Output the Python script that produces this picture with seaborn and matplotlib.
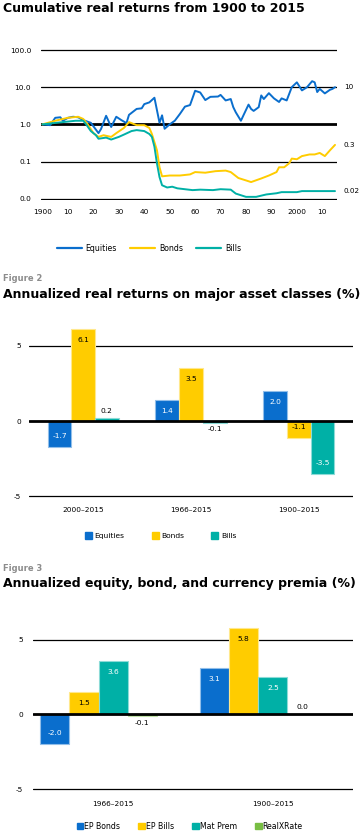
import numpy as np
import pandas as pd
import matplotlib
matplotlib.use('Agg')
import matplotlib.pyplot as plt
import seaborn as sns
from matplotlib.lines import Line2D
from matplotlib.patches import Patch
from matplotlib.colors import to_rgb

sns.set_theme(style='white')
plt.rcParams['font.family'] = ['DejaVu Sans']
plt.rcParams['text.color'] = 'black'
plt.rcParams['xtick.color'] = 'black'
plt.rcParams['ytick.color'] = 'black'

W, H = 362, 840

# --- Figure 1: cumulative real returns (log scale) ---
assets = ['Equities', 'Bonds', 'Bills']
eq_years = [1900, 1903, 1905, 1907, 1908, 1910, 1912, 1914, 1916, 1919, 1922, 1923,
            1925, 1927, 1929, 1931, 1933, 1934, 1937, 1939, 1940, 1942, 1944, 1946,
            1947, 1948, 1950, 1952, 1954, 1956, 1958, 1960, 1962, 1964, 1966, 1969,
            1970, 1972, 1974, 1975, 1976, 1978, 1979, 1981, 1982, 1983, 1985, 1986,
            1987, 1989, 1991, 1993, 1994, 1996, 1998, 2000, 2002, 2004, 2006, 2007,
            2008, 2009, 2011, 2013, 2014, 2015]
eq_values = [1.0, 0.95, 1.5, 1.55, 1.25, 1.5, 1.6, 1.55, 1.3, 1.1, 0.58, 0.75,
             1.7, 0.85, 1.6, 1.3, 1.08, 1.8, 2.6, 2.7, 3.5, 3.9, 5.2, 1.1,
             1.75, 0.76, 1.0, 1.25, 1.9, 3.0, 3.3, 8.0, 7.2, 4.5, 5.5, 5.6,
             6.2, 4.4, 4.8, 2.9, 2.1, 1.25, 1.75, 3.4, 2.6, 2.3, 2.9, 6.0,
             4.8, 6.9, 5.0, 4.0, 5.0, 4.4, 10.0, 13.5, 8.2, 10.0, 14.5, 13.5,
             7.4, 9.0, 6.8, 8.5, 9.0, 10.0]
bond_years = [1900, 1905, 1910, 1914, 1916, 1918, 1920, 1922, 1924, 1927, 1929, 1932,
              1934, 1937, 1940, 1942, 1943, 1945, 1946, 1947, 1950, 1954, 1958, 1960,
              1964, 1968, 1972, 1974, 1977, 1980, 1982, 1986, 1989, 1992, 1993, 1995,
              1997, 1998, 2000, 2002, 2005, 2007, 2009, 2011, 2013, 2015]
bond_values = [1.0, 1.25, 1.5, 1.6, 1.4, 0.95, 0.58, 0.46, 0.51, 0.46, 0.58, 0.8,
               1.15, 0.95, 0.95, 0.8, 0.55, 0.2, 0.07, 0.04, 0.042, 0.042, 0.045, 0.052,
               0.05, 0.055, 0.057, 0.052, 0.036, 0.031, 0.028, 0.035, 0.042, 0.052, 0.07, 0.07,
               0.09, 0.12, 0.115, 0.14, 0.155, 0.155, 0.17, 0.14, 0.2, 0.28]
bill_years = [1900, 1908, 1913, 1916, 1917, 1919, 1921, 1922, 1925, 1927, 1930, 1932,
              1935, 1937, 1940, 1942, 1943, 1944, 1945, 1946, 1947, 1949, 1951, 1953,
              1959, 1962, 1967, 1970, 1974, 1976, 1980, 1984, 1988, 1992, 1994, 2000,
              2002, 2015]
bill_values = [1.0, 1.15, 1.25, 1.25, 1.03, 0.66, 0.51, 0.41, 0.44, 0.39, 0.46, 0.53,
               0.66, 0.7, 0.66, 0.55, 0.46, 0.25, 0.088, 0.038, 0.023, 0.02, 0.021, 0.019,
               0.017, 0.0175, 0.017, 0.018, 0.0175, 0.0137, 0.0112, 0.0112, 0.013, 0.014, 0.015, 0.015,
               0.016, 0.016]
end_labels = ['10', '0.3', '0.02']
log_ticks = [100, 10, 1, 0.1, 0.01]
log_ticklabels = ['100.0', '10.0', '1.0', '0.1', '0.0']
decade_ticks = list(range(1900, 2011, 10))
decade_labels = ['1900', '10', '20', '30', '40', '50', '60', '70', '80', '90', '2000', '10']

# --- Figure 2: annualized real returns ---
periods2 = ['2000–2015', '1966–2015', '1900–2015']
equities_ret = [-1.7, 1.4, 2.0]
bonds_ret = [6.1, 3.5, -1.1]
bills_ret = [0.2, -0.1, -3.5]

# --- Figure 3: premia ---
periods3 = ['1966–2015', '1900–2015']
premia = ['EP Bonds', 'EP Bills', 'Mat Prem', 'RealXRate']
ep_bonds = [-2.0, 3.1]
ep_bills = [1.5, 5.8]
mat_prem = [3.6, 2.5]
real_xrate = [-0.1, 0.0]

colors = {'Equities': '#0A6ECD', 'Bonds': '#FFCC00', 'Bills': '#00B0A6'}
colors3 = {'EP Bonds': '#0A6ECD', 'EP Bills': '#FFCC00', 'Mat Prem': '#00B0A6',
           'RealXRate': '#78BE43', ' ': '#ffffff'}


def box(left, right, top, bottom):
    return [left / W, 1 - bottom / H, (right - left) / W, (bottom - top) / H]


def clean(ax):
    for s in ax.spines.values():
        s.set_visible(False)
    ax.set_xlabel('')
    ax.set_ylabel('')


def style_bars(ax):
    for bar in ax.patches:
        fc = np.array(to_rgb(bar.get_facecolor()))
        bar.set_edgecolor(fc * 0.45 + 0.55)
        bar.set_linewidth(0.8)


def label_bars(ax):
    for bar in ax.patches:
        h = bar.get_height()
        if np.isnan(h):
            continue
        x = bar.get_x() + bar.get_width() / 2
        fc = bar.get_facecolor()
        lum = 0.299 * fc[0] + 0.587 * fc[1] + 0.114 * fc[2]
        if abs(h) < 0.5:
            off = 5 if h >= 0 else -5
            col = 'black'
        else:
            off = -8 if h > 0 else 8
            col = 'white' if lum < 0.6 else 'black'
        ax.annotate(f'{h:.1f}', (x, h), xytext=(0, off), textcoords='offset points',
                    ha='center', va='center', fontsize=5.4, color=col, zorder=5)


fig = plt.figure(figsize=(W / 100, H / 100), dpi=100)

# ---------- chart 1 ----------
fig.text(3 / W, 1 - 8 / H, 'Cumulative real returns from 1900 to 2015',
         fontsize=9, fontweight='bold', va='center', ha='left')
ax1 = fig.add_axes(box(41, 337.3, 48.9, 199.8))
df1 = pd.concat([
    pd.DataFrame({'year': eq_years, 'value': eq_values, 'series': 'Equities'}),
    pd.DataFrame({'year': bond_years, 'value': bond_values, 'series': 'Bonds'}),
    pd.DataFrame({'year': bill_years, 'value': bill_values, 'series': 'Bills'}),
])
sns.lineplot(data=df1, x='year', y='value', hue='series', hue_order=assets,
             palette=colors, estimator=None, linewidth=1.4, ax=ax1, legend=False,
             zorder=3)
ax1.set_yscale('log')
ax1.set_ylim(10 ** -2.03, 10 ** 2.03)
ax1.set_xlim(1899.4, 2015.9)
ax1.set_yticks(log_ticks, log_ticklabels)
ax1.minorticks_off()
ax1.set_xticks(decade_ticks, decade_labels)
for v in log_ticks:
    ax1.axhline(v, color='black', lw=2 if v == 1 else 0.9, zorder=1)
clean(ax1)
ax1.tick_params(axis='y', length=0, labelsize=5.3, pad=7)
ax1.tick_params(axis='x', length=0, labelsize=5.3, pad=6.5)
for vals, lab in zip([eq_values, bond_values, bill_values], end_labels):
    ax1.text(2018.5, vals[-1], lab, fontsize=5.2, va='center', ha='left', clip_on=False)
fig.legend([Line2D([], [], color=colors[a], lw=1.6) for a in assets], assets,
           loc='center left', bbox_to_anchor=(56.7 / W, 1 - 248.3 / H), frameon=False,
           ncol=3, fontsize=5.6, handlelength=3.2, handletextpad=0.5, columnspacing=1.7,
           borderpad=0, borderaxespad=0)

# ---------- chart 2 ----------
fig.text(3 / W, 1 - 278.5 / H, 'Figure 2', fontsize=6, fontweight='bold',
         color='#8c8c8c', va='center', ha='left')
fig.text(3 / W, 1 - 294.5 / H, 'Annualized real returns on major asset classes (%)',
         fontsize=9, fontweight='bold', va='center', ha='left')
ax2 = fig.add_axes(box(29.3, 352.7, 323.1, 499.4))
df2 = pd.DataFrame({
    'period': periods2 * 3,
    'asset': [a for a in assets for _ in periods2],
    'value': equities_ret + bonds_ret + bills_ret,
})
sns.barplot(data=df2, x='period', y='value', hue='asset', hue_order=assets,
            palette=colors, width=0.66, saturation=1, errorbar=None, legend=False, ax=ax2)
ax2.set_xlim(-0.5, 2.5)
ax2.set_ylim(-5.2, 6.5)
ax2.set_yticks([-5, 0, 5], ['-5', '0', '5'])
for v in [-5, 5]:
    ax2.axhline(v, color='black', lw=0.9, zorder=0.5)
ax2.axhline(0, color='black', lw=2, zorder=3)
style_bars(ax2)
label_bars(ax2)
clean(ax2)
ax2.tick_params(axis='y', length=0, labelsize=5.3, pad=5.8)
ax2.tick_params(axis='x', length=0, labelsize=5.3, pad=5.8)
fig.legend([Patch(color=colors[a]) for a in assets], assets,
           loc='center left', bbox_to_anchor=(85 / W, 1 - 535.7 / H), frameon=False,
           ncol=3, fontsize=5.4, handlelength=0.93, handleheight=0.93, handletextpad=0.35,
           columnspacing=3.6, borderpad=0, borderaxespad=0)

# ---------- chart 3 ----------
fig.text(3 / W, 1 - 568.5 / H, 'Figure 3', fontsize=6, fontweight='bold',
         color='#8c8c8c', va='center', ha='left')
fig.text(3 / W, 1 - 583 / H, 'Annualized equity, bond, and currency premia (%)',
         fontsize=9, fontweight='bold', va='center', ha='left')
ax3 = fig.add_axes(box(33.3, 352.7, 617.2, 792))
df3 = pd.DataFrame({
    'period': periods3 * 5,
    'premium': [p for p in premia + [' '] for _ in periods3],
    'value': ep_bonds + ep_bills + mat_prem + real_xrate + [np.nan, np.nan],
})
sns.barplot(data=df3, x='period', y='value', hue='premium', hue_order=premia + [' '],
            palette=colors3, width=0.915, saturation=1, errorbar=None, legend=False, ax=ax3)
ax3.set_xlim(-0.5, 1.5)
ax3.set_ylim(-5.2, 6.5)
ax3.set_yticks([-5, 0, 5], ['-5', '0', '5'])
for v in [-5, 5]:
    ax3.axhline(v, color='black', lw=0.9, zorder=0.5)
ax3.axhline(0, color='black', lw=2, zorder=3)
style_bars(ax3)
label_bars(ax3)
clean(ax3)
ax3.tick_params(axis='y', length=0, labelsize=5.3, pad=7.2)
ax3.tick_params(axis='x', length=0, labelsize=5.3, pad=6.2)
fig.legend([Patch(color=colors3[p]) for p in premia], premia,
           loc='center left', bbox_to_anchor=(76.7 / W, 1 - 826.5 / H), frameon=False,
           ncol=4, fontsize=5.6, handlelength=0.85, handleheight=0.85, handletextpad=0.15,
           columnspacing=2.3, borderpad=0, borderaxespad=0)

fig.savefig('out.png', dpi=100)
